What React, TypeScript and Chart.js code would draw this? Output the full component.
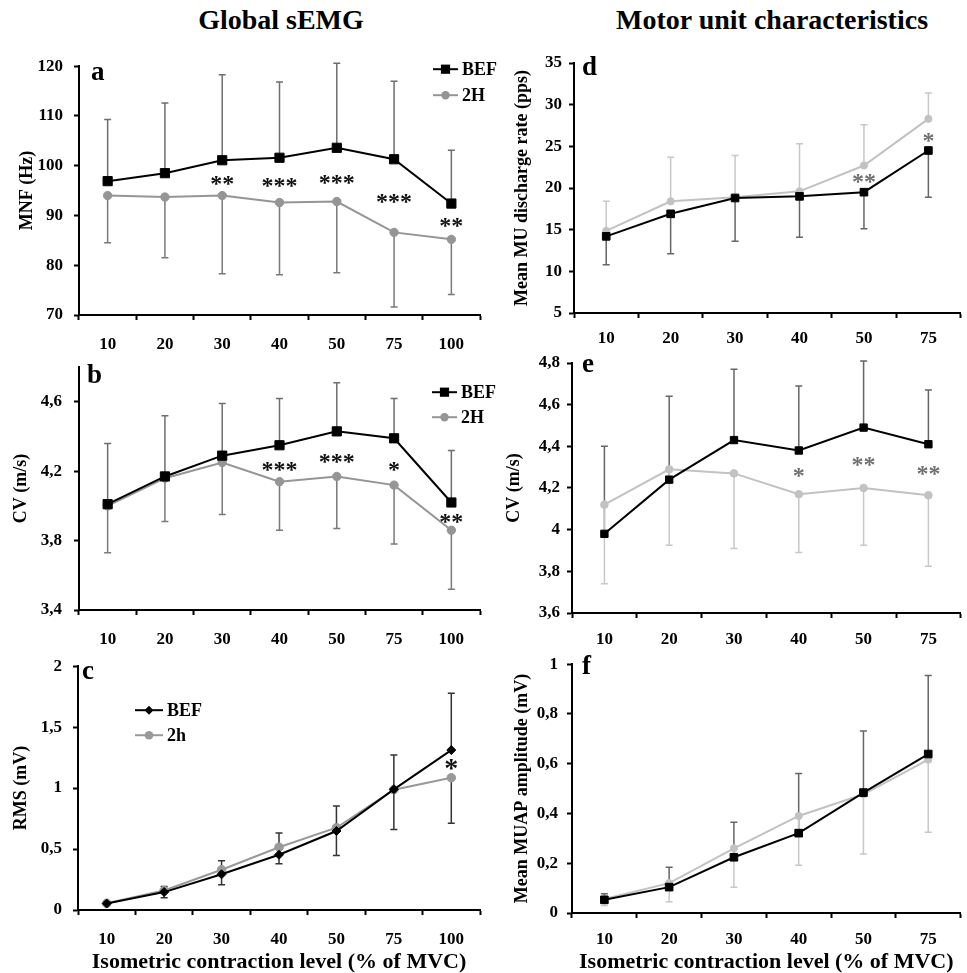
import React, { useEffect, useRef } from 'react';
import { Chart, registerables } from 'chart.js';

Chart.register(...registerables);

const SERIF = '"Liberation Serif", "Times New Roman", serif';

// ---------- categories ----------
const LEVELS_7 = ['10', '20', '30', '40', '50', '75', '100'];
const LEVELS_6 = ['10', '20', '30', '40', '50', '75'];

// ---------- panel a : MNF (Hz) ----------
const MNF_TICKS = [70, 80, 90, 100, 110, 120];
const MNF_BEF = [96.9, 98.5, 101.1, 101.6, 103.6, 101.3, 92.4];
const MNF_BEF_ERR = [109.3, 112.6, 118.3, 116.8, 120.6, 117.0, 103.1];
const MNF_2H = [94.0, 93.7, 94.0, 92.6, 92.8, 86.6, 85.2];
const MNF_2H_ERR = [84.5, 81.5, 78.3, 78.1, 78.5, 71.6, 74.1];
const MNF_SIG = ['', '', '**', '***', '***', '***', '**'];
const MNF_SIG_AT = [null, null, 97.1, 96.8, 97.4, 93.6, 88.8];

// ---------- panel b : CV (m/s) global ----------
const CV_TICKS = [3.4, 3.8, 4.2, 4.6];
const CV_BEF = [4.01, 4.17, 4.29, 4.35, 4.43, 4.39, 4.02];
const CV_BEF_ERR = [4.36, 4.52, 4.59, 4.62, 4.71, 4.62, 4.32];
const CV_2H = [4.0, 4.16, 4.25, 4.14, 4.17, 4.12, 3.86];
const CV_2H_ERR = [3.73, 3.91, 3.95, 3.86, 3.87, 3.78, 3.52];
const CV_SIG = ['', '', '', '***', '***', '*', '**'];
const CV_SIG_AT = [null, null, null, 4.23, 4.28, 4.23, 3.93];

// ---------- panel c : RMS (mV) ----------
const RMS_TICKS = [0, 0.5, 1, 1.5, 2];
const RMS_BEF = [0.053, 0.147, 0.293, 0.453, 0.648, 0.99, 1.312];
const RMS_BEF_ERR = [0.07, 0.192, 0.405, 0.632, 0.853, 1.272, 1.779];
const RMS_2H = [0.055, 0.16, 0.33, 0.515, 0.675, 0.987, 1.085];
const RMS_2H_ERR = [0.045, 0.101, 0.208, 0.379, 0.448, 0.661, 0.712];
const RMS_SIG = ['', '', '', '', '', '', '*'];
const RMS_SIG_AT = [null, null, null, null, null, null, 1.2];

// ---------- panel d : mean MU discharge rate (pps) ----------
const DR_TICKS = [5, 10, 15, 20, 25, 30, 35];
const DR_BEF = [14.2, 16.9, 18.8, 19.0, 19.5, 24.5];
const DR_BEF_ERR = [10.8, 12.1, 13.6, 14.1, 15.1, 18.9];
const DR_2H = [14.85, 18.4, 18.9, 19.6, 22.7, 28.3];
const DR_2H_ERR = [18.4, 23.7, 23.9, 25.3, 27.6, 31.4];
const DR_SIG = ['', '', '', '', '**', '*'];
const DR_SIG_AT = [null, null, null, null, 21.2, 26.1];

// ---------- panel e : CV (m/s) motor units ----------
const CVMU_TICKS = [3.6, 3.8, 4, 4.2, 4.4, 4.6, 4.8];
const CVMU_BEF = [3.98, 4.24, 4.43, 4.38, 4.49, 4.41];
const CVMU_BEF_ERR = [4.4, 4.64, 4.77, 4.69, 4.81, 4.67];
const CVMU_2H = [4.12, 4.29, 4.27, 4.17, 4.2, 4.165];
const CVMU_2H_ERR = [3.74, 3.925, 3.91, 3.89, 3.925, 3.825];
const CVMU_SIG = ['', '', '', '*', '**', '**'];
const CVMU_SIG_AT = [null, null, null, 4.28, 4.333, 4.288];

// ---------- panel f : mean MUAP amplitude (mV) ----------
const AMP_TICKS = [0, 0.2, 0.4, 0.6, 0.8, 1];
const AMP_BEF = [0.053, 0.104, 0.224, 0.321, 0.484, 0.639];
const AMP_BEF_ERR = [0.077, 0.184, 0.365, 0.561, 0.732, 0.955];
const AMP_2H = [0.056, 0.12, 0.26, 0.39, 0.477, 0.616];
const AMP_2H_ERR = [0.03, 0.045, 0.103, 0.192, 0.237, 0.325];
const AMP_SIG = ['', '', '', '', '', ''];
const AMP_SIG_AT = [null, null, null, null, null, null];

const X_TITLE = 'Isometric contraction level (% of MVC)';

type Series = {
  label: string;
  values: number[];
  err: number[];
  color: string;
  errColor: string;
  pointStyle: string;
  radius: number;
};

type PanelCfg = {
  key: string;
  letter: string;
  letterDx: number;
  letterDy: number;
  box: { left: number; top: number; width: number; height: number };
  area: { left: number; top: number; right: number; bottom: number };
  labels: string[];
  yTicks: number[];
  yMin: number;
  yMax: number;
  yTitle: string;
  yTitlePad: number;
  yTickPad: number;
  xTickPad: number;
  xTitle?: string;
  series: Series[];
  sig: string[];
  sigAt: (number | null)[];
  sigColor: string;
  sigFont: string;
  sigSize: number;
  legend?: { x: number; y: number; gap: number; len: number };
};

const BLACK = '#000000';
const GREY_A = '#959595';
const GREY_M = '#c2c2c2';

const PANELS: PanelCfg[] = [
  {
    key: 'a', letter: 'a', letterDx: 12, letterDy: 14,
    box: { left: 0, top: 45, width: 510, height: 320 },
    area: { left: 79, top: 63, right: 480, bottom: 315 },
    labels: LEVELS_7, yTicks: MNF_TICKS, yMin: 70, yMax: 120,
    yTitle: 'MNF (Hz)', yTitlePad: 17, yTickPad: 11, xTickPad: 14,
    series: [
      { label: 'BEF', values: MNF_BEF, err: MNF_BEF_ERR, color: BLACK, errColor: '#6e6e6e', pointStyle: 'rect', radius: 6.5 },
      { label: '2H', values: MNF_2H, err: MNF_2H_ERR, color: GREY_A, errColor: '#7a7a7a', pointStyle: 'circle', radius: 4.2 },
    ],
    sig: MNF_SIG, sigAt: MNF_SIG_AT, sigColor: '#111', sigFont: `bold 24px ${SERIF}`, sigSize: 24,
    legend: { x: 354, y: 3, gap: 26, len: 25 },
  },
  {
    key: 'b', letter: 'b', letterDx: 8, letterDy: 16,
    box: { left: 0, top: 345, width: 510, height: 320 },
    area: { left: 79, top: 367, right: 480, bottom: 610 },
    labels: LEVELS_7, yTicks: CV_TICKS, yMin: 3.4, yMax: 4.8,
    yTitle: 'CV (m/s)', yTitlePad: 11, yTickPad: 12, xTickPad: 14,
    series: [
      { label: 'BEF', values: CV_BEF, err: CV_BEF_ERR, color: BLACK, errColor: '#6e6e6e', pointStyle: 'rect', radius: 6.5 },
      { label: '2H', values: CV_2H, err: CV_2H_ERR, color: GREY_A, errColor: '#7a7a7a', pointStyle: 'circle', radius: 4.2 },
    ],
    sig: CV_SIG, sigAt: CV_SIG_AT, sigColor: '#111', sigFont: `bold 24px ${SERIF}`, sigSize: 24,
    legend: { x: 353, y: 25, gap: 25, len: 25 },
  },
  {
    key: 'c', letter: 'c', letterDx: 4, letterDy: 13,
    box: { left: 0, top: 645, width: 510, height: 328 },
    area: { left: 78, top: 659, right: 480, bottom: 910 },
    labels: LEVELS_7, yTicks: RMS_TICKS, yMin: 0, yMax: 2,
    yTitle: 'RMS (mV)', yTitlePad: 11, yTickPad: 11, xTickPad: 14, xTitle: X_TITLE,
    series: [
      { label: 'BEF', values: RMS_BEF, err: RMS_BEF_ERR, color: BLACK, errColor: '#333333', pointStyle: 'rectRot', radius: 4.5 },
      { label: '2h', values: RMS_2H, err: RMS_2H_ERR, color: '#999999', errColor: '#333333', pointStyle: 'circle', radius: 4.3 },
    ],
    sig: RMS_SIG, sigAt: RMS_SIG_AT, sigColor: '#111', sigFont: `bold 28px ${SERIF}`, sigSize: 28,
    legend: { x: 57, y: 44, gap: 25, len: 28 },
  },
  {
    key: 'd', letter: 'd', letterDx: 8, letterDy: 12,
    box: { left: 485, top: 45, width: 482, height: 320 },
    area: { left: 574, top: 63, right: 965, bottom: 313 },
    labels: LEVELS_6, yTicks: DR_TICKS, yMin: 5, yMax: 35,
    yTitle: 'Mean MU discharge rate (pps)', yTitlePad: 27, yTickPad: 7, xTickPad: 10,
    series: [
      { label: 'BEF', values: DR_BEF, err: DR_BEF_ERR, color: BLACK, errColor: '#666666', pointStyle: 'rect', radius: 5.4 },
      { label: '2H', values: DR_2H, err: DR_2H_ERR, color: GREY_M, errColor: '#c8c8c8', pointStyle: 'circle', radius: 3.6 },
    ],
    sig: DR_SIG, sigAt: DR_SIG_AT, sigColor: '#707070', sigFont: `bold 24px ${SERIF}`, sigSize: 24,
  },
  {
    key: 'e', letter: 'e', letterDx: 10, letterDy: 9,
    box: { left: 485, top: 345, width: 482, height: 320 },
    area: { left: 572, top: 363, right: 961, bottom: 613 },
    labels: LEVELS_6, yTicks: CVMU_TICKS, yMin: 3.6, yMax: 4.8,
    yTitle: 'CV (m/s)', yTitlePad: 19, yTickPad: 7, xTickPad: 11,
    series: [
      { label: 'BEF', values: CVMU_BEF, err: CVMU_BEF_ERR, color: BLACK, errColor: '#666666', pointStyle: 'rect', radius: 5.2 },
      { label: '2H', values: CVMU_2H, err: CVMU_2H_ERR, color: GREY_M, errColor: '#c8c8c8', pointStyle: 'circle', radius: 3.8 },
    ],
    sig: CVMU_SIG, sigAt: CVMU_SIG_AT, sigColor: '#707070', sigFont: `bold 24px ${SERIF}`, sigSize: 24,
  },
  {
    key: 'f', letter: 'f', letterDx: 10, letterDy: 10,
    box: { left: 485, top: 645, width: 482, height: 328 },
    area: { left: 572, top: 663, right: 961, bottom: 913 },
    labels: LEVELS_6, yTicks: AMP_TICKS, yMin: 0, yMax: 1,
    yTitle: 'Mean MUAP amplitude (mV)', yTitlePad: 27, yTickPad: 9, xTickPad: 11, xTitle: X_TITLE,
    series: [
      { label: 'BEF', values: AMP_BEF, err: AMP_BEF_ERR, color: BLACK, errColor: '#666666', pointStyle: 'rect', radius: 5.4 },
      { label: '2H', values: AMP_2H, err: AMP_2H_ERR, color: GREY_M, errColor: '#c8c8c8', pointStyle: 'circle', radius: 3.6 },
    ],
    sig: AMP_SIG, sigAt: AMP_SIG_AT, sigColor: '#707070', sigFont: `bold 24px ${SERIF}`, sigSize: 24,
  },
];

function fmtTick(v: number): string {
  return String(Number(v.toFixed(2))).replace('.', ',');
}

function drawMarker(ctx: CanvasRenderingContext2D, style: string, x: number, y: number, r: number) {
  ctx.beginPath();
  if (style === 'rect') {
    const s = r * Math.SQRT1_2;
    ctx.rect(x - s, y - s, 2 * s, 2 * s);
  } else if (style === 'rectRot') {
    ctx.moveTo(x, y - r);
    ctx.lineTo(x + r, y);
    ctx.lineTo(x, y + r);
    ctx.lineTo(x - r, y);
    ctx.closePath();
  } else {
    ctx.arc(x, y, r, 0, Math.PI * 2);
  }
  ctx.fill();
}

const panelDecor = {
  id: 'panelDecor',
  beforeDatasetsDraw(chart: any, _args: any, opts: any) {
    const ctx: CanvasRenderingContext2D = chart.ctx;
    const ys = chart.scales.y;
    chart.data.datasets.forEach((ds: any, di: number) => {
      if (!ds.errorEnds) return;
      const meta = chart.getDatasetMeta(di);
      ctx.save();
      ctx.strokeStyle = ds.errorColor;
      ctx.lineWidth = 1.5;
      meta.data.forEach((pt: any, i: number) => {
        const e = ds.errorEnds[i];
        if (e == null) return;
        const ey = ys.getPixelForValue(e);
        ctx.beginPath();
        ctx.moveTo(pt.x, pt.y);
        ctx.lineTo(pt.x, ey);
        ctx.moveTo(pt.x - 3.5, ey);
        ctx.lineTo(pt.x + 3.5, ey);
        ctx.stroke();
      });
      ctx.restore();
    });
  },
  afterDatasetsDraw(chart: any, _args: any, opts: any) {
    const cfg: PanelCfg = opts.cfg;
    const ctx: CanvasRenderingContext2D = chart.ctx;
    const area = chart.chartArea;
    const xs = chart.scales.x;
    const ys = chart.scales.y;
    ctx.save();
    // significance asterisks
    ctx.fillStyle = cfg.sigColor;
    ctx.font = cfg.sigFont;
    ctx.textAlign = 'center';
    ctx.textBaseline = 'alphabetic';
    cfg.sig.forEach((s, i) => {
      const at = cfg.sigAt[i];
      if (!s || at == null) return;
      const x = xs.getPixelForValue(i);
      const y = ys.getPixelForValue(at) + cfg.sigSize * 0.47;
      ctx.fillText(s, x, y);
    });
    // panel letter
    ctx.fillStyle = '#000';
    ctx.font = `bold 27px ${SERIF}`;
    ctx.textAlign = 'left';
    ctx.fillText(cfg.letter, area.left + cfg.letterDx, area.top + cfg.letterDy);
    // legend
    if (cfg.legend) {
      const lg = cfg.legend;
      cfg.series.forEach((s, i) => {
        const x0 = area.left + lg.x;
        const y = area.top + lg.y + i * lg.gap;
        ctx.strokeStyle = s.color;
        ctx.fillStyle = s.color;
        ctx.lineWidth = 2;
        ctx.beginPath();
        ctx.moveTo(x0, y);
        ctx.lineTo(x0 + lg.len, y);
        ctx.stroke();
        drawMarker(ctx, s.pointStyle, x0 + lg.len / 2, y, s.radius);
        ctx.fillStyle = '#000';
        ctx.font = `bold 18px ${SERIF}`;
        ctx.textBaseline = 'middle';
        ctx.fillText(s.label, x0 + lg.len + 4, y + 1);
        ctx.textBaseline = 'alphabetic';
      });
    }
    ctx.restore();
  },
};

function Panel({ cfg }: { cfg: PanelCfg }) {
  const ref = useRef<HTMLCanvasElement>(null);
  useEffect(() => {
    const canvas = ref.current;
    if (!canvas) return;
    const { box, area } = cfg;
    const tickFont = { family: SERIF, size: 17, weight: 'bold' as const };
    const chart = new Chart(canvas, {
      type: 'line',
      data: {
        labels: cfg.labels,
        datasets: cfg.series.map((s) => ({
          label: s.label,
          data: s.values,
          errorEnds: s.err,
          errorColor: s.errColor,
          borderColor: s.color,
          backgroundColor: s.color,
          borderWidth: 2,
          pointStyle: s.pointStyle,
          pointRadius: s.radius,
          pointHoverRadius: s.radius,
          pointBackgroundColor: s.color,
          pointBorderColor: s.color,
          pointBorderWidth: 1,
          tension: 0,
          fill: false,
        })) as any,
      },
      options: {
        responsive: false,
        animation: false,
        devicePixelRatio: 1,
        events: [],
        layout: {
          padding: {
            left: 0,
            top: area.top - box.top,
            right: box.left + box.width - area.right,
            bottom: 0,
          },
        },
        plugins: {
          legend: { display: false },
          tooltip: { enabled: false },
          panelDecor: { cfg },
        } as any,
        scales: {
          x: {
            type: 'category',
            offset: true,
            grid: {
              offset: true,
              drawOnChartArea: false,
              drawTicks: true,
              tickLength: 5,
              tickColor: '#000',
              tickWidth: 2,
            },
            border: { display: true, color: '#000', width: 2 },
            ticks: {
              color: '#000',
              font: tickFont,
              padding: cfg.xTickPad,
              autoSkip: false,
              maxRotation: 0,
            },
            title: cfg.xTitle
              ? {
                  display: true,
                  text: cfg.xTitle,
                  color: '#000',
                  font: { family: SERIF, size: 22, weight: 'bold', lineHeight: 1 },
                  padding: { top: 0, bottom: 0 },
                }
              : { display: false },
            afterFit: (s: any) => {
              s.height = box.top + box.height - area.bottom;
            },
          },
          y: {
            type: 'linear',
            min: cfg.yMin,
            max: cfg.yMax,
            afterBuildTicks: (s: any) => {
              s.ticks = cfg.yTicks.map((v) => ({ value: v }));
            },
            grid: {
              drawOnChartArea: false,
              drawTicks: true,
              tickLength: 5,
              tickColor: '#000',
              tickWidth: 2,
            },
            border: { display: true, color: '#000', width: 2 },
            ticks: {
              color: '#000',
              font: tickFont,
              padding: cfg.yTickPad,
              callback: (v: any) => fmtTick(Number(v)),
            },
            title: {
              display: true,
              text: cfg.yTitle,
              color: '#000',
              font: { family: SERIF, size: 18, weight: 'bold', lineHeight: 1.2 },
              padding: { top: cfg.yTitlePad, bottom: 0 },
            },
            afterFit: (s: any) => {
              s.width = area.left - box.left;
            },
          },
        } as any,
      },
      plugins: [panelDecor as any],
    });
    return () => chart.destroy();
  }, [cfg]);
  return (
    <canvas
      ref={ref}
      width={cfg.box.width}
      height={cfg.box.height}
      style={{ position: 'absolute', left: cfg.box.left, top: cfg.box.top, width: cfg.box.width, height: cfg.box.height }}
    />
  );
}

const colTitle = (center: number): React.CSSProperties => ({
  position: 'absolute',
  left: center - 220,
  width: 440,
  top: 6,
  textAlign: 'center',
  fontFamily: SERIF,
  fontWeight: 'bold',
  fontSize: 28,
  lineHeight: '28px',
  color: '#000',
  whiteSpace: 'nowrap',
});

export default function App() {
  return (
    <div
      style={{
        position: 'absolute',
        left: 0,
        top: 0,
        width: 967,
        height: 973,
        background: '#ffffff',
        overflow: 'hidden',
      }}
    >
      <div style={colTitle(281)}>Global sEMG</div>
      <div style={colTitle(772)}>Motor unit characteristics</div>
      {PANELS.map((p) => (
        <Panel key={p.key} cfg={p} />
      ))}
    </div>
  );
}
